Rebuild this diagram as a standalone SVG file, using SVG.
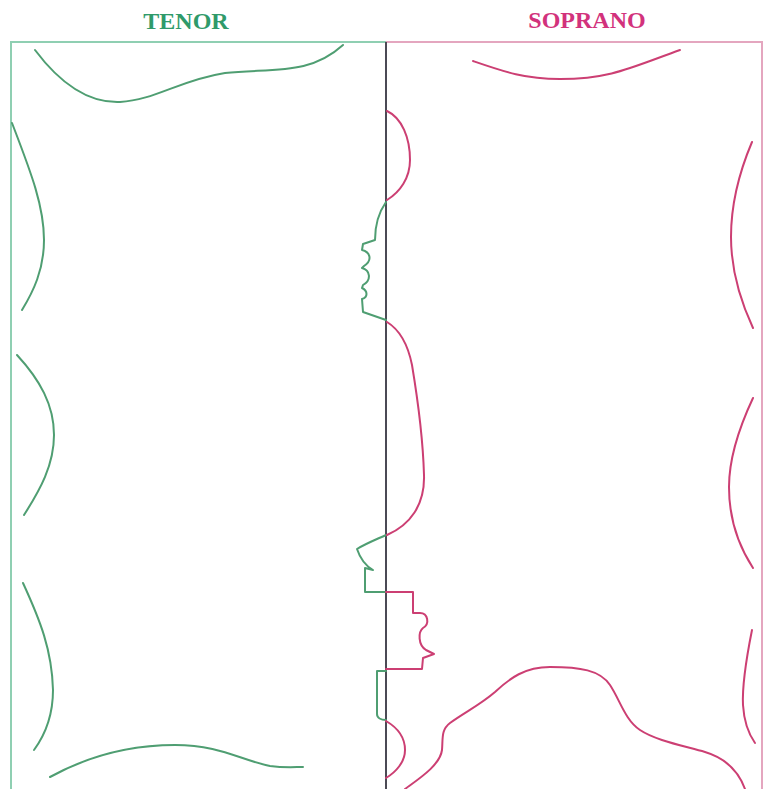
<svg xmlns="http://www.w3.org/2000/svg" width="765" height="789" viewBox="0 0 765 789">
<style>
.t{font-family:"Liberation Serif","Times New Roman",serif;font-weight:bold;font-size:24px;text-anchor:middle}
.g{fill:none;stroke:#4f9e72;stroke-width:2;stroke-linejoin:round;stroke-linecap:round}
.p{fill:none;stroke:#cc3f73;stroke-width:2;stroke-linejoin:round;stroke-linecap:round}
</style>
<rect width="765" height="789" fill="#ffffff"/>
<g id="frame">
<path d="M11,789 V42 H386" fill="none" stroke="#8fcfb2" stroke-width="2"/>
<path d="M386,42 H762 V789" fill="none" stroke="#e4a6bf" stroke-width="2"/>
<line x1="386" y1="42" x2="386" y2="789" stroke="#4b4a55" stroke-width="2"/>
</g>
<text class="t" x="186" y="29" fill="#2f9a6a">TENOR</text>
<text class="t" x="587" y="28" fill="#d2327c">SOPRANO</text>
<g id="tenor">
<path class="g" d="M35,50 C65,90 95,103 120,102 C155,100 180,80 225,73 C275,68 310,75 343,45"/>
<path class="g" d="M12,123 C30,170 44,205 44,240 C44,270 33,292 22,310"/>
<path class="g" d="M17,355 C40,380 54,405 54,435 C54,465 40,490 24,515"/>
<path class="g" d="M23,583 C40,620 52,650 53,690 C53,715 45,735 34,750"/>
<path class="g" d="M50,777 C90,755 130,745 175,745 C220,745 240,760 270,766 C285,768 295,767 303,767"/>
<path class="g" d="M386,202 C379,212 375,226 375,240 L363,244 L362,250 C370,252 373,260 364,266 L362,268 C370,270 372,280 363,285 L362,288 C368,291 368,297 362,299 L363,312 L386,320"/>
<path class="g" d="M386,535 C375,540 365,544 357,549 C360,558 366,566 373,570 L365,568 L365,592 L386,592"/>
<path class="g" d="M386,671 L377,671 L377,714 C377,718 381,720 386,720"/>
</g>
<g id="soprano">
<path class="p" d="M473,61 C505,72 525,79 560,79 C610,79 630,68 680,50"/>
<path class="p" d="M752,142 C738,175 731,205 731,237 C731,270 740,300 753,328"/>
<path class="p" d="M753,398 C738,430 729,460 729,487 C729,520 740,548 753,568"/>
<path class="p" d="M752,630 C746,660 742,685 743,705 C744,722 748,733 755,743"/>
<path class="p" d="M387,111 C402,118 410,138 410,160 C410,178 400,192 387,200"/>
<path class="p" d="M387,322 C400,330 408,345 412,365 C417,395 423,440 424,475 C425,505 410,525 387,535"/>
<path class="p" d="M386,592 L413,592 L413,613 L420,613 C428,613 430,624 423,628 C418,632 418,645 426,650 L434,654 L423,658 L422,669 L386,669"/>
<path class="p" d="M386,721 C398,728 405,738 405,750 C405,762 396,772 386,778"/>
<path class="p" d="M405,789 C420,778 440,765 442,750 C443,738 441,730 450,723 C465,712 480,705 495,692 C510,678 525,667 550,667 C580,667 600,670 610,685 C620,700 625,720 640,730 C655,740 680,745 705,752 C725,758 738,770 745,789"/>
</g>
</svg>
